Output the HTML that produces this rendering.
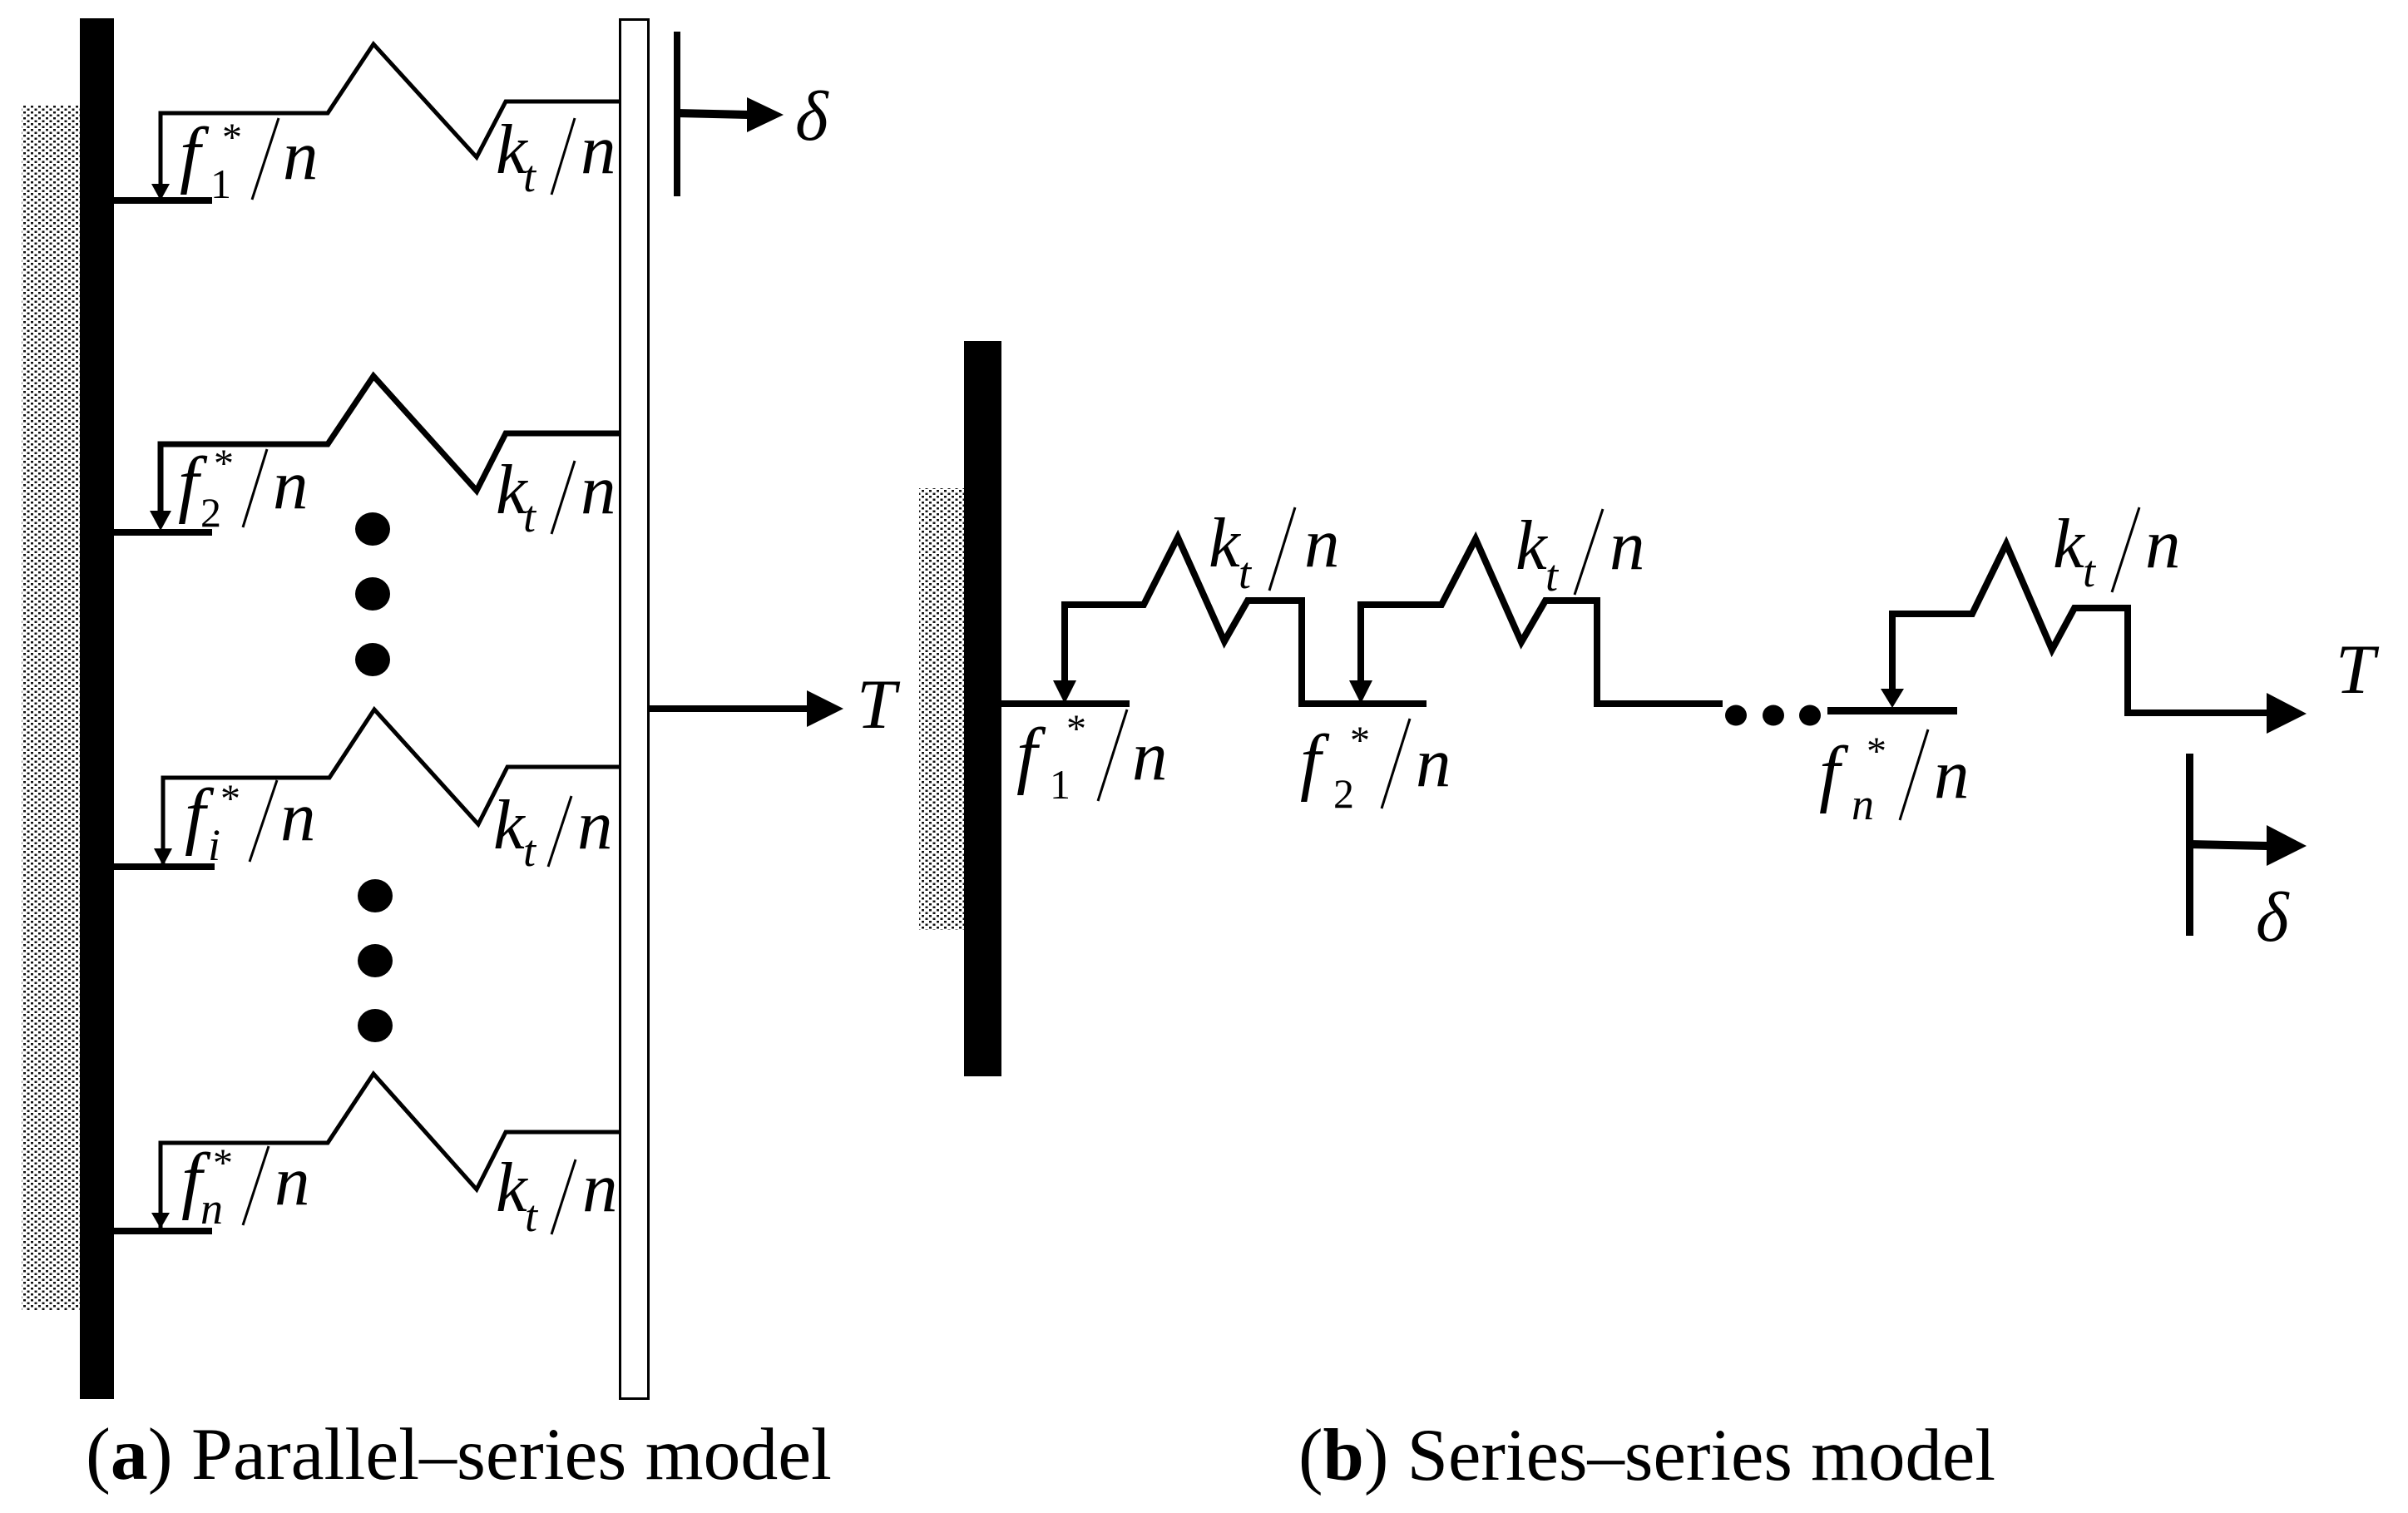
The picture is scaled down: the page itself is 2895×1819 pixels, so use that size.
<!DOCTYPE html>
<html><head><meta charset="utf-8"><style>
html,body{margin:0;padding:0;background:#fff}
svg{display:block}
text{font-family:"Liberation Serif",serif;fill:#000}
.m{font-style:italic;font-size:85px}
.f{font-style:italic;font-size:90px}
.s{font-style:italic;font-size:54px}
.d{font-size:50px}
.a{font-size:48px}
.c{font-size:89px}
.b{font-weight:bold}
.th{fill:none;stroke:#000;stroke-width:5}
.tk{fill:none;stroke:#000;stroke-width:8}
.sl{stroke:#000;stroke-width:3}
</style></head><body>
<svg width="2895" height="1819" viewBox="0 0 2895 1819" xmlns="http://www.w3.org/2000/svg">
<defs><pattern id="h" width="9" height="7" patternUnits="userSpaceOnUse">
<rect width="9" height="7" fill="#fff"/><rect x="1" y="1" width="3" height="2.5" fill="#111"/><rect x="5.5" y="4.5" width="3" height="2.5" fill="#111"/></pattern></defs>

<!-- a: structure -->
<rect x="26" y="127" width="70" height="1448" fill="url(#h)"/>
<rect x="96" y="22" width="41" height="1660" fill="#000"/>
<rect x="745.5" y="23.5" width="34" height="1658" fill="#fff" stroke="#000" stroke-width="3"/>

<!-- springs a -->
<polyline class="th" points="193,240 193,136 394,136 449,53 573,189 608,122 744,122"/>
<polygon points="182,221 204,221 193,241"/>
<rect x="137" y="237" width="118" height="8"/>

<polyline class="tk" style="stroke-width:7" points="193,630 193,534 394,534 449,452 573,590 608,521 744,521"/>
<polygon points="180,614 206,614 193,638"/>
<rect x="137" y="636" width="118" height="8"/>

<polyline class="th" points="196,1040 196,935 396,935 450,853 575,991 610,922 745,922"/>
<polygon points="185,1020 207,1020 196,1041"/>
<rect x="137" y="1038" width="121" height="8"/>

<polyline class="th" points="193,1476 193,1374 394,1374 449,1291 573,1430 608,1361 744,1361"/>
<polygon points="182,1458 204,1458 193,1477"/>
<rect x="137" y="1476" width="118" height="8"/>

<ellipse cx="448" cy="636" rx="21" ry="20"/><ellipse cx="448" cy="714" rx="21" ry="20"/><ellipse cx="448" cy="793" rx="21" ry="20"/>
<ellipse cx="451" cy="1077" rx="21" ry="20"/><ellipse cx="451" cy="1155" rx="21" ry="20"/><ellipse cx="451" cy="1233" rx="21" ry="20"/>

<!-- delta a -->
<rect x="810" y="38" width="8" height="198"/>
<polyline points="814,136 900,138" fill="none" stroke="#000" stroke-width="10"/>
<polygon points="898,117 942,138 898,159"/>
<text class="m" x="956" y="168">δ</text>
<!-- T a -->
<rect x="781" y="848" width="190" height="8"/>
<polygon points="970,830 1014,852 970,874"/>
<text class="m" x="1030" y="875">T</text>

<!-- labels a -->
<text class="f" x="216" y="215">f</text><text class="d" x="253" y="238">1</text><text class="a" x="267" y="181">*</text><line class="sl" x1="335" y1="142" x2="303" y2="240"/><text class="m" x="340" y="215">n</text>
<text class="m" x="596" y="208">k</text><text class="s" x="629" y="230">t</text><line class="sl" x1="691" y1="142" x2="663" y2="234"/><text class="m" x="698" y="208">n</text>

<text class="f" x="214" y="611">f</text><text class="d" x="241" y="633">2</text><text class="a" x="257" y="573">*</text><line class="sl" x1="321" y1="540" x2="292" y2="634"/><text class="m" x="328" y="611">n</text>
<text class="m" x="596" y="617">k</text><text class="s" x="629" y="639">t</text><line class="sl" x1="691" y1="554" x2="663" y2="642"/><text class="m" x="698" y="617">n</text>

<text class="f" x="222" y="1010">f</text><text class="s" x="250" y="1034">i</text><text class="a" x="265" y="976">*</text><line class="sl" x1="333" y1="938" x2="300" y2="1036"/><text class="m" x="337" y="1010">n</text>
<text class="m" x="593" y="1020">k</text><text class="s" x="629" y="1041">t</text><line class="sl" x1="687" y1="957" x2="659" y2="1042"/><text class="m" x="694" y="1020">n</text>

<text class="f" x="218" y="1448">f</text><text class="s" x="241" y="1471">n</text><text class="a" x="256" y="1414">*</text><line class="sl" x1="323" y1="1378" x2="292" y2="1473"/><text class="m" x="330" y="1448">n</text>
<text class="m" x="596" y="1456">k</text><text class="s" x="631" y="1480">t</text><line class="sl" x1="692" y1="1394" x2="663" y2="1484"/><text class="m" x="700" y="1456">n</text>

<!-- b: structure -->
<rect x="1105" y="587" width="54" height="531" fill="url(#h)"/>
<rect x="1159" y="410" width="45" height="884"/>

<rect x="1204" y="842" width="154" height="8"/>
<polyline class="tk" points="1280,825 1280,727 1375,727 1416,646 1472,771 1500,722 1565,722 1565,846 1715,846"/>
<polygon points="1266,818 1294,818 1280,846"/>
<polyline class="tk" points="1636,825 1636,727 1733,727 1774,648 1829,772 1858,722 1920,722 1920,846 2071,846"/>
<polygon points="1622,818 1650,818 1636,846"/>
<ellipse cx="2087" cy="860" rx="13" ry="12.5"/><ellipse cx="2132" cy="860" rx="13" ry="12.5"/><ellipse cx="2176" cy="860" rx="13" ry="12.5"/>
<rect x="2197" y="850" width="156" height="9"/>
<polyline class="tk" points="2275,830 2275,738 2371,738 2412,654 2467,781 2494,731 2558,731 2558,857 2726,857"/>
<polygon points="2261,828 2289,828 2275,851"/>
<polygon points="2725,833 2773,858 2725,882"/>
<text class="m" x="2808" y="833">T</text>

<rect x="2628" y="906" width="9" height="219"/>
<polyline points="2632,1015 2726,1017" fill="none" stroke="#000" stroke-width="10"/>
<polygon points="2725,992 2773,1017 2725,1041"/>
<text class="m" x="2712" y="1131">δ</text>

<!-- labels b -->
<text class="m" x="1453" y="681">k</text><text class="s" x="1489" y="707">t</text><line class="sl" x1="1557" y1="610" x2="1526" y2="710"/><text class="m" x="1568" y="681">n</text>
<text class="m" x="1822" y="684">k</text><text class="s" x="1858" y="710">t</text><line class="sl" x1="1927" y1="612" x2="1893" y2="715"/><text class="m" x="1935" y="684">n</text>
<text class="m" x="2468" y="682">k</text><text class="s" x="2504" y="705">t</text><line class="sl" x1="2572" y1="610" x2="2539" y2="712"/><text class="m" x="2579" y="682">n</text>

<text class="f" x="1222" y="937">f</text><text class="d" x="1262" y="960">1</text><text class="a" x="1282" y="892">*</text><line class="sl" x1="1355" y1="853" x2="1320" y2="963"/><text class="m" x="1361" y="937">n</text>
<text class="f" x="1563" y="945">f</text><text class="d" x="1603" y="971">2</text><text class="a" x="1623" y="906">*</text><line class="sl" x1="1695" y1="864" x2="1661" y2="972"/><text class="m" x="1702" y="945">n</text>
<text class="f" x="2187" y="959">f</text><text class="s" x="2226" y="985">n</text><text class="a" x="2244" y="919">*</text><line class="sl" x1="2318" y1="877" x2="2284" y2="986"/><text class="m" x="2325" y="959">n</text>

<!-- captions -->
<text class="c" x="103" y="1778" textLength="897" lengthAdjust="spacingAndGlyphs">(<tspan class="b">a</tspan>) Parallel–series model</text>
<text class="c" x="1561" y="1779" textLength="838" lengthAdjust="spacingAndGlyphs">(<tspan class="b">b</tspan>) Series–series model</text>
</svg>
</body></html>
